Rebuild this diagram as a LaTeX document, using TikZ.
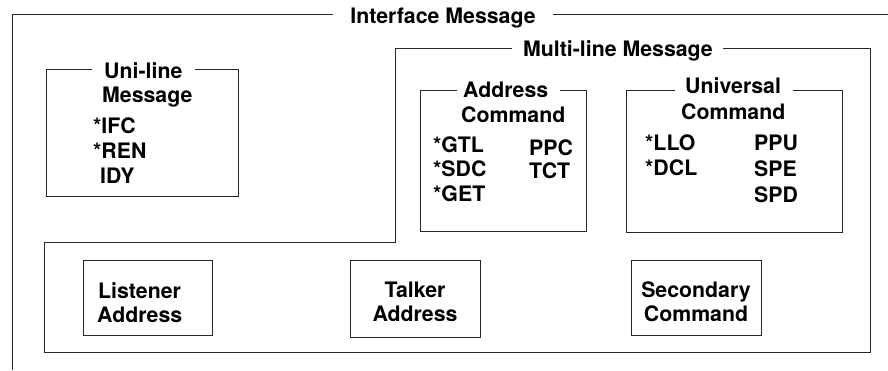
\documentclass[tikz,border=0pt]{standalone}
\usepackage{fontspec}
\setmainfont{TeX Gyre Heros}
\begin{document}
\begin{tikzpicture}[x=1pt,y=-1pt,
  frame/.style={draw=black!85,line width=1pt},
  boxnode/.style={draw=black!85,line width=1pt,inner sep=0pt,anchor=north west},
  txt/.style={inner sep=0pt,anchor=base west,font=\bfseries\fontsize{21.3}{25}\selectfont},
  ctxt/.style={txt,anchor=base}]
\useasboundingbox (0,0) rectangle (888,370);
% Interface Message frame
\draw[frame] (333,14) -- (12,14) -- (12,370);
\draw[frame] (553,14) -- (888,14);
\node[ctxt] (iface) at (443,23) {Interface Message};
% Multi-line Message frame
\draw[frame] (512,48) -- (395,48) -- (395,242) -- (44,242) -- (44,352) -- (870,352) -- (870,48) -- (723,48);
\node[ctxt] (multi) at (618,56) {Multi-line Message};
% Uni-line Message box
\draw[frame] (92,69) -- (46,69) -- (46,196) -- (238,196) -- (238,69) -- (195,69);
\node[txt] (uni1) at (104,78) {Uni-line};
\node[txt] (uni2) at (102,102) {Message};
\node[txt] (ifc) at (93,133) {*IFC};
\node[txt] (ren) at (93,158) {*REN};
\node[txt] (idy) at (100,183) {IDY};
% Address Command box
\draw[frame] (457,90) -- (420,90) -- (420,231) -- (586,231) -- (586,90) -- (560,90);
\node[txt] (ad1) at (463,97) {Address};
\node[txt] (ad2) at (461,122) {Command};
\node[txt] (gtl) at (433,152) {*GTL};
\node[txt] (sdc) at (433,176) {*SDC};
\node[txt] (get) at (433,201) {*GET};
\node[txt] (ppc) at (529,155) {PPC};
\node[txt] (tct) at (529,178) {TCT};
% Universal Command box
\draw[frame] (675,90) -- (626,90) -- (626,232) -- (842,232) -- (842,90) -- (793,90);
\node[txt] (un1) at (685,93) {Universal};
\node[txt] (un2) at (681,119) {Command};
\node[txt] (llo) at (645,150) {*LLO};
\node[txt] (dcl) at (645,175) {*DCL};
\node[txt] (ppu) at (754,150) {PPU};
\node[txt] (spe) at (754,176) {SPE};
\node[txt] (spd) at (754,202) {SPD};
% Listener / Talker / Secondary boxes
\node[boxnode,minimum width=129pt,minimum height=75pt] (lbox) at (83,260) {};
\node[txt] (l1) at (98,298) {Listener};
\node[txt] (l2) at (97,322) {Address};
\node[boxnode,minimum width=130pt,minimum height=77pt] (tbox) at (350,260) {};
\node[ctxt] (t1) at (415,297) {Talker};
\node[ctxt] (t2) at (415,321) {Address};
\node[boxnode,minimum width=130pt,minimum height=75pt] (sbox) at (631,260) {};
\node[ctxt] (s1) at (696,297) {Secondary};
\node[ctxt] (s2) at (696,321) {Command};
\end{tikzpicture}
\end{document}
